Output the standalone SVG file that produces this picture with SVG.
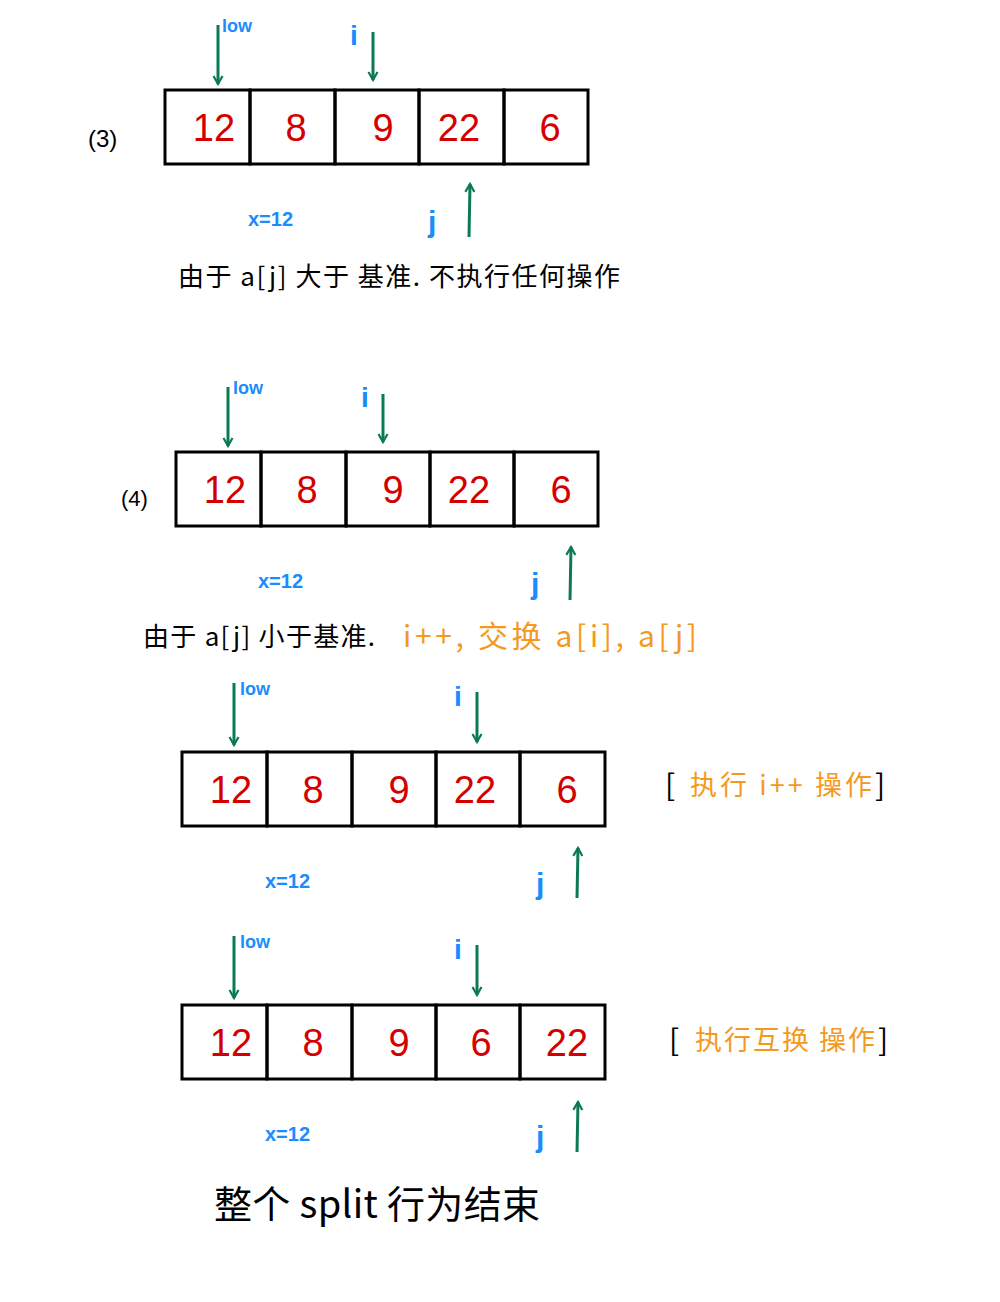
<svg xmlns="http://www.w3.org/2000/svg" width="1000" height="1302" viewBox="0 0 1000 1302">
<style>
.box{fill:none;stroke:#000;stroke-width:3}
.num{font-family:"Liberation Sans","Noto Sans CJK SC",sans-serif;font-size:38px;fill:#d40000;text-anchor:middle}
.ptr{stroke:#0b7a52;stroke-width:3;fill:none}
.blue{font-family:"Liberation Sans","Noto Sans CJK SC",sans-serif;fill:#1a8cff;font-weight:bold}
.lbl{font-family:"Liberation Sans","Noto Sans CJK SC",sans-serif;fill:#000}
.cn{font-family:"Noto Sans CJK SC",sans-serif;fill:#000}
.org{font-family:"Noto Sans CJK SC",sans-serif;fill:#f39a1e}
</style>
<defs>
<marker id="ah" viewBox="0 0 12 12" refX="10" refY="6" markerWidth="12" markerHeight="12" orient="auto" markerUnits="userSpaceOnUse">
<path d="M2,1.5 L10,6 L2,10.5" fill="none" stroke="#0b7a52" stroke-width="2.2"/>
</marker>
</defs>

<g id="row3">
<text class="lbl" x="88" y="147" font-size="24">(3)</text>
<rect class="box" x="165" y="90" width="85" height="74"/>
<rect class="box" x="250" y="90" width="85" height="74"/>
<rect class="box" x="335" y="90" width="84" height="74"/>
<rect class="box" x="419" y="90" width="85" height="74"/>
<rect class="box" x="504" y="90" width="84" height="74"/>
<text class="num" x="214" y="141">12</text>
<text class="num" x="296" y="141">8</text>
<text class="num" x="383" y="141">9</text>
<text class="num" x="459" y="141">22</text>
<text class="num" x="550" y="141">6</text>
<text class="blue" x="222" y="32" font-size="18">low</text>
<text class="blue" x="350" y="45" font-size="28">i</text>
<text class="blue" x="428" y="232" font-size="30">j</text>
<text class="blue" x="248" y="226" font-size="20">x=12</text>
<text class="cn" x="178" y="286" font-size="26" textLength="442" lengthAdjust="spacing">由于 a[j] 大于 基准. 不执行任何操作</text>
</g>

<g id="row4">
<text class="lbl" x="121" y="506" font-size="22">(4)</text>
<rect class="box" x="176" y="452" width="85" height="74"/>
<rect class="box" x="261" y="452" width="85" height="74"/>
<rect class="box" x="346" y="452" width="84" height="74"/>
<rect class="box" x="430" y="452" width="84" height="74"/>
<rect class="box" x="514" y="452" width="84" height="74"/>
<text class="num" x="225" y="503">12</text>
<text class="num" x="307" y="503">8</text>
<text class="num" x="393" y="503">9</text>
<text class="num" x="469" y="503">22</text>
<text class="num" x="561" y="503">6</text>
<text class="blue" x="233" y="394" font-size="18">low</text>
<text class="blue" x="361" y="407" font-size="28">i</text>
<text class="blue" x="531" y="594" font-size="30">j</text>
<text class="blue" x="258" y="588" font-size="20">x=12</text>
<text class="cn" x="143" y="646" font-size="26" textLength="232" lengthAdjust="spacing">由于 a[j] 小于基准.</text>
<text class="org" x="403" y="647" font-size="30" textLength="294" lengthAdjust="spacing">i++, 交换 a[i], a[j]</text>
</g>

<g id="row5">
<rect class="box" x="182" y="752" width="85" height="74"/>
<rect class="box" x="267" y="752" width="85" height="74"/>
<rect class="box" x="352" y="752" width="84" height="74"/>
<rect class="box" x="436" y="752" width="84" height="74"/>
<rect class="box" x="520" y="752" width="85" height="74"/>
<text class="num" x="231" y="803">12</text>
<text class="num" x="313" y="803">8</text>
<text class="num" x="399" y="803">9</text>
<text class="num" x="475" y="803">22</text>
<text class="num" x="567" y="803">6</text>
<text class="blue" x="240" y="695" font-size="18">low</text>
<text class="blue" x="454" y="706" font-size="28">i</text>
<text class="blue" x="536" y="894" font-size="30">j</text>
<text class="blue" x="265" y="888" font-size="20">x=12</text>
<text class="cn" x="665" y="796" font-size="30">[</text>
<text class="org" x="690" y="795" font-size="27" textLength="182" lengthAdjust="spacing">执行 i++ 操作</text>
<text class="cn" x="875" y="796" font-size="30">]</text>
</g>

<g id="row6">
<rect class="box" x="182" y="1005" width="85" height="74"/>
<rect class="box" x="267" y="1005" width="85" height="74"/>
<rect class="box" x="352" y="1005" width="84" height="74"/>
<rect class="box" x="436" y="1005" width="84" height="74"/>
<rect class="box" x="520" y="1005" width="85" height="74"/>
<text class="num" x="231" y="1056">12</text>
<text class="num" x="313" y="1056">8</text>
<text class="num" x="399" y="1056">9</text>
<text class="num" x="481" y="1056">6</text>
<text class="num" x="567" y="1056">22</text>
<text class="blue" x="240" y="948" font-size="18">low</text>
<text class="blue" x="454" y="959" font-size="28">i</text>
<text class="blue" x="536" y="1147" font-size="30">j</text>
<text class="blue" x="265" y="1141" font-size="20">x=12</text>
<text class="cn" x="669" y="1051" font-size="30">[</text>
<text class="org" x="695" y="1050" font-size="27" textLength="180" lengthAdjust="spacing">执行互换 操作</text>
<text class="cn" x="878" y="1051" font-size="30">]</text>
</g>

<g id="footer">
<text class="cn" x="214" y="1218" font-size="38" textLength="326" lengthAdjust="spacing">整个 split 行为结束</text>
</g>

<g id="connectors">
<line class="ptr" x1="218" y1="25" x2="218" y2="84" marker-end="url(#ah)"/>
<line class="ptr" x1="373" y1="32" x2="373" y2="80" marker-end="url(#ah)"/>
<line class="ptr" x1="469" y1="237" x2="470" y2="184" marker-end="url(#ah)"/>
<line class="ptr" x1="228" y1="387" x2="228" y2="446" marker-end="url(#ah)"/>
<line class="ptr" x1="383" y1="394" x2="383" y2="442" marker-end="url(#ah)"/>
<line class="ptr" x1="570" y1="600" x2="571" y2="547" marker-end="url(#ah)"/>
<line class="ptr" x1="234" y1="683" x2="234" y2="745" marker-end="url(#ah)"/>
<line class="ptr" x1="477" y1="692" x2="477" y2="742" marker-end="url(#ah)"/>
<line class="ptr" x1="577" y1="898" x2="578" y2="848" marker-end="url(#ah)"/>
<line class="ptr" x1="234" y1="936" x2="234" y2="998" marker-end="url(#ah)"/>
<line class="ptr" x1="477" y1="945" x2="477" y2="995" marker-end="url(#ah)"/>
<line class="ptr" x1="577" y1="1152" x2="578" y2="1102" marker-end="url(#ah)"/>
</g>
</svg>
